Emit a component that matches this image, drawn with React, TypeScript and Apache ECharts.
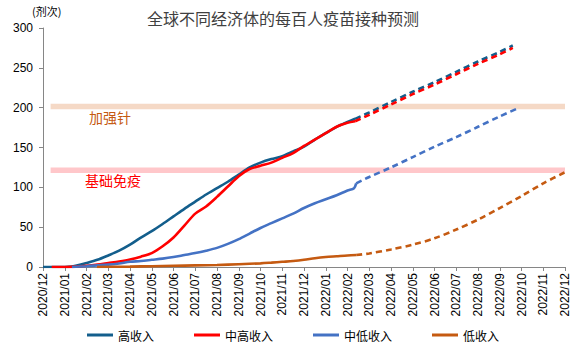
import React, { useEffect, useRef } from "react";
import * as echarts from "echarts";

const monthLabels = [
  "2020/12", "2021/01", "2021/02", "2021/03", "2021/04", "2021/05", "2021/06",
  "2021/07", "2021/08", "2021/09", "2021/10", "2021/11", "2021/12", "2022/01",
  "2022/02", "2022/03", "2022/04", "2022/05", "2022/06", "2022/07", "2022/08",
  "2022/09", "2022/10", "2022/11", "2022/12",
];

const seriesNames = ["高收入", "中高收入", "中低收入", "低收入"];
const seriesColors = ["#135E8C", "#FF0000", "#4472C4", "#C55A11"];

// [month index from 2020/12, doses per hundred people]
const highActual = [[0,0],[1,0],[1.3,0.5],[1.5,1.5],[2,5],[2.5,9],[3,14.5],[3.5,20.5],[4,28],[4.5,37],[5,45],[5.5,54],[6,63.5],[6.5,73],[7,82],[7.5,91],[8,99],[8.5,107],[9,116],[9.5,125],[10,131],[10.5,135.5],[11,139],[11.5,145],[12,151],[12.5,160],[13,168],[13.5,176],[14,182],[14.35,186]];
const highProj = [[14.35,186],[15,194],[16,207],[17,220],[18,232],[19,245],[20,258],[21,270],[21.6,278]];

const midHighActual = [[0.4,0],[1,0],[1.5,0.5],[2,1.5],[2.5,3],[3,5],[3.5,7],[4,9.5],[4.5,13],[5,17.5],[5.5,26],[6,37],[6.5,52],[7,67],[7.5,76],[8,88],[8.5,101],[9,114],[9.5,123],[10,127],[10.5,131],[11,137],[11.5,143],[12,152],[12.5,160],[13,168],[13.5,176],[14,181],[14.35,183]];
const midHighProj = [[14.35,183],[15,191],[16,204],[17,217],[18,229],[19,242],[20,255],[21,267],[21.6,275]];

const midLowActual = [[1.33,0],[2,1],[2.5,2],[3,3],[3.5,4.5],[4,6.5],[4.5,7.5],[5,9],[5.5,10.5],[6,12.5],[6.5,15],[7,17.5],[7.5,20.5],[8,24],[8.5,29],[9,35],[9.5,42],[10,49],[10.5,55],[11,61],[11.5,67],[12,74],[12.5,80],[13,85],[13.5,90],[14,96],[14.3,99],[14.4,105]];
const midLowProj = [[14.4,105],[15,113],[16,125],[17,138],[18,151],[19,163],[20,176],[21,189],[21.9,200]];

const lowActual = [[2.48,0],[4,0.5],[5,1],[6,1.5],[7,2],[8,2.5],[9,3.5],[10,4.6],[10.5,5.5],[11,6.5],[11.5,7.5],[12,9],[12.5,11],[13,12.5],[13.5,13.5],[14,14.5],[14.4,15]];
const lowProj = [[14.4,15],[15,17],[16,22],[17,28],[18,36],[19,47],[20,59.5],[21,74],[22,89],[23,105],[24,119]];

const boosterBand = [198, 205];
const primaryBand = [118, 125];
const bandStart = 0.35;
const bandEnd = 24;

const yTicks = [0, 50, 100, 150, 200, 250, 300];

export default function App() {
  const ref = useRef<HTMLDivElement>(null);

  useEffect(() => {
    if (!ref.current) return;
    const chart = echarts.init(ref.current, null, { renderer: "svg" });
    const actuals = [highActual, midHighActual, midLowActual, lowActual];
    const projs = [highProj, midHighProj, midLowProj, lowProj];
    const series: any[] = [];
    actuals.forEach((d, i) => {
      series.push({
        name: seriesNames[i],
        type: "line",
        data: d,
        showSymbol: false,
        symbol: "none",
        smooth: 0.3,
        lineStyle: { color: seriesColors[i], width: 2.6 },
        itemStyle: { color: seriesColors[i] },
      });
    });
    projs.forEach((d, i) => {
      series.push({
        name: seriesNames[i],
        type: "line",
        data: d,
        showSymbol: false,
        symbol: "none",
        smooth: 0.3,
        lineStyle: { color: seriesColors[i], width: 2.6, type: [6, 4] },
        itemStyle: { color: seriesColors[i] },
      });
    });
    series.push({
      name: "bands",
      type: "line",
      data: [],
      z: 3,
      markArea: {
        silent: true,
        data: [
          [
            { xAxis: bandStart, yAxis: boosterBand[0], itemStyle: { color: "rgba(235,179,141,0.5)" } },
            { xAxis: bandEnd, yAxis: boosterBand[1] },
          ],
          [
            { xAxis: bandStart, yAxis: primaryBand[0], itemStyle: { color: "rgba(255,143,149,0.5)" } },
            { xAxis: bandEnd, yAxis: primaryBand[1] },
          ],
        ],
      },
    });

    chart.setOption({
      animation: false,
      title: {
        text: "全球不同经济体的每百人疫苗接种预测",
        left: 142,
        top: 5,
        textStyle: {
          fontFamily: "Noto Sans CJK SC",
          fontSize: 16,
          fontWeight: "normal",
          color: "#404040",
        },
      },
      grid: { left: 43, right: 16, top: 28, bottom: 78 },
      legend: {
        data: seriesNames,
        left: 82,
        top: 324,
        itemGap: 40,
        itemWidth: 26,
        itemHeight: 3,
        icon: "rect",
        textStyle: { fontFamily: "Noto Sans CJK SC", fontSize: 12, color: "#000" },
      },
      xAxis: {
        type: "value",
        min: 0,
        max: 24,
        interval: 1,
        splitLine: { show: false },
        axisLine: { lineStyle: { color: "#868686", width: 1 } },
        axisTick: { show: true, length: 4, lineStyle: { color: "#868686" } },
        axisLabel: {
          rotate: 90,
          margin: 6,
          fontFamily: "Liberation Sans",
          fontSize: 12,
          color: "#000",
          formatter: (v: number) => monthLabels[Math.round(v)] ?? "",
        },
      },
      yAxis: {
        type: "value",
        min: yTicks[0],
        max: yTicks[yTicks.length - 1],
        interval: 50,
        splitLine: { show: false },
        axisLine: { show: true, lineStyle: { color: "#868686", width: 1 } },
        axisTick: { show: true, length: 4, lineStyle: { color: "#868686" } },
        axisLabel: {
          margin: 10,
          fontFamily: "Liberation Sans",
          fontSize: 12,
          color: "#000",
        },
      },
      graphic: [
        {
          type: "text",
          left: 32,
          top: 5,
          style: { text: "(剂次)", fontFamily: "Noto Sans CJK SC", fontSize: 11, fill: "#000" },
        },
        {
          type: "text",
          left: 89,
          top: 110,
          style: { text: "加强针", fontFamily: "Noto Sans CJK SC", fontSize: 14, fill: "#C55A11" },
        },
        {
          type: "text",
          left: 85,
          top: 173,
          style: { text: "基础免疫", fontFamily: "Noto Sans CJK SC", fontSize: 14, fill: "#FF0000" },
        },
      ],
      series,
    });
    return () => chart.dispose();
  }, []);

  return <div ref={ref} style={{ width: 581, height: 345, position: "absolute", left: 0, top: 0 }} />;
}
